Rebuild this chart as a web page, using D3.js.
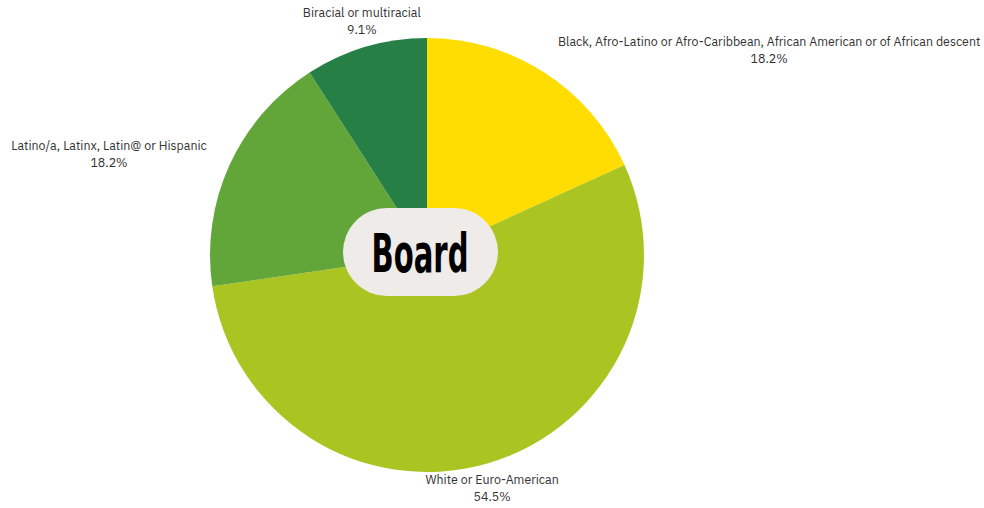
<!DOCTYPE html>
<html>
<head>
<meta charset="utf-8">
<script src="https://d3js.org/d3.v7.min.js"></script>
<style>
  body { margin: 0; background: #fff; }
  svg { display: block; }
</style>
</head>
<body>
<svg id="chart" width="984" height="508"></svg>
<script>
var groups = ["Black, Afro-Latino or Afro-Caribbean, African American or of African descent",
              "White or Euro-American",
              "Latino/a, Latinx, Latin@ or Hispanic",
              "Biracial or multiracial"]
var shares = [18.2, 54.5, 18.2, 9.1]
var colors = ["#ffdd00", "#aac421", "#62a63a", "#268046"]
var title = "Board"

var svg = d3.select("#chart")
var cx = 427, cy = 255, radius = 217

var data = groups.map(function (g, i) { return { name: g, value: shares[i], color: colors[i] } })
var pie = d3.pie().sort(null).value(function (d) { return d.value })
var arc = d3.arc().innerRadius(0).outerRadius(radius)

var g = svg.append("g").attr("transform", "translate(" + cx + "," + cy + ")")

g.selectAll("path").data(pie(data)).enter().append("path")
    .attr("d", arc)
    .attr("fill", function (d) { return d.data.color })

// outside labels, two centred lines each
var labelR = radius + 14
g.selectAll("text.lbl").data(pie(data)).enter().append("text")
    .attr("class", "lbl")
    .attr("font-family", "'IBM Plex Sans', 'Noto Sans', sans-serif")
    .attr("font-size", 12.4)
    .attr("fill", "#333")
    .attr("text-anchor", "middle")
    .each(function (d) {
        var a = (d.startAngle + d.endAngle) / 2
        var s = Math.sin(a), c = -Math.cos(a)
        var x = s * labelR, y = c * labelR
        var t = d3.select(this)
        var l1 = t.append("tspan").text(d.data.name)
        var l2 = t.append("tspan").text(d.data.value.toFixed(1) + "%")
        var w = l1.node().getComputedTextLength()
        var y0
        if (s > 0.5) { x = x + 6 + w / 2; y0 = y - 25 }
        else if (s < -0.5) { x = x - 10 - w / 2; y0 = y - 19 }
        else if (c < 0) { y0 = y - 26 }
        else { y0 = y - 3 }
        l1.attr("x", x).attr("y", y0 + 10)
        l2.attr("x", x).attr("y", y0 + 27)
    })

// center badge
var badge = svg.append("g").attr("transform", "translate(" + (cx - 7) + "," + (cy - 3) + ")")
badge.append("rect")
    .attr("x", -77).attr("y", -44).attr("width", 155).attr("height", 88)
    .attr("rx", 44).attr("ry", 44)
    .attr("fill", "#eeebe8")
badge.append("text")
    .attr("x", 0).attr("y", 20)
    .attr("text-anchor", "middle")
    .attr("font-family", "'Liberation Sans Narrow', 'DejaVu Sans Condensed', sans-serif")
    .attr("font-weight", "bold")
    .attr("font-size", 54)
    .attr("textLength", 97)
    .attr("lengthAdjust", "spacingAndGlyphs")
    .attr("fill", "#000")
    .text(title)
</script>
</body>
</html>
